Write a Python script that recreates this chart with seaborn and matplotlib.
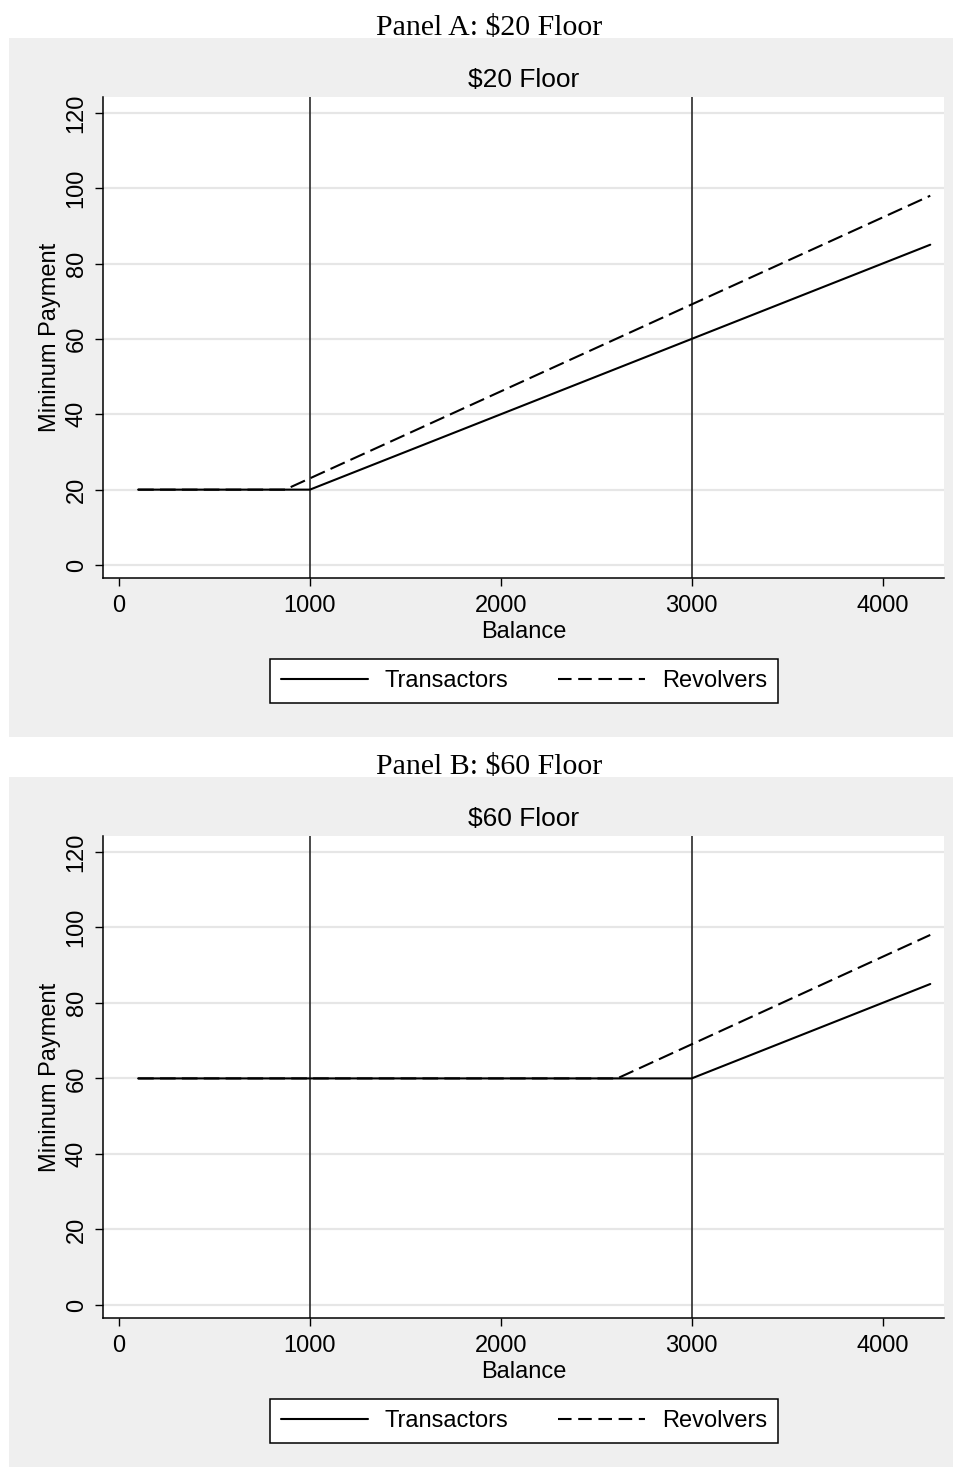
import numpy as np
import pandas as pd
import seaborn as sns
import matplotlib.pyplot as plt
from matplotlib.patches import Rectangle
from matplotlib.lines import Line2D

# data: kink points of the minimum payment schedules
panel_titles = ["Panel A: $20 Floor", "Panel B: $60 Floor"]
plot_titles = ["$20 Floor", "$60 Floor"]

a_trans_bal = [100, 1000, 4250]
a_trans_pay = [20, 20, 85]
a_rev_bal = [100, 870, 4250]
a_rev_pay = [20, 20, 98]

b_trans_bal = [100, 3000, 4250]
b_trans_pay = [60, 60, 85]
b_rev_bal = [100, 2610, 4250]
b_rev_pay = [60, 60, 98]

vlines = [1000, 3000]
xticks = [0, 1000, 2000, 3000, 4000]
yticks = [0, 20, 40, 60, 80, 100, 120]
series_names = ["Transactors", "Revolvers"]

sns.set_style("white")
plt.rcParams['font.family'] = ['Liberation Sans', 'DejaVu Sans']
plt.rcParams['text.color'] = 'black'
plt.rcParams['axes.labelcolor'] = 'black'
plt.rcParams['xtick.color'] = 'black'
plt.rcParams['ytick.color'] = 'black'

W, H = 954, 1467
fig = plt.figure(figsize=(W / 100, H / 100), dpi=100)
fig.patch.set_facecolor("white")

GRAY = "#efefef"
DASH = (0, (7.5, 3))

panels = [
    (a_trans_bal, a_trans_pay, a_rev_bal, a_rev_pay, 38, 737, 97, 578),
    (b_trans_bal, b_trans_pay, b_rev_bal, b_rev_pay, 777, 1467, 836, 1318),
]

def fx(px):
    return px / W

def fy(py):
    return 1 - py / H

for i, (tb, tp, rb, rp, g_top, g_bot, a_top, a_bot) in enumerate(panels):
    # gray background box
    fig.patches.append(Rectangle((fx(9), fy(g_bot)), fx(W - 9), fy(g_top) - fy(g_bot),
                                 transform=fig.transFigure, facecolor=GRAY,
                                 edgecolor="none", zorder=-10))
    # serif panel header
    fig.text(fx(489), fy(g_top - 10), panel_titles[i], ha="center", va="center",
             fontsize=21.5, family="Liberation Serif", color="black")

    ax = fig.add_axes([fx(103), fy(a_bot), fx(944) - fx(103), fy(a_top) - fy(a_bot)])
    ax.set_facecolor("white")

    df_t = pd.DataFrame({"Balance": tb, "Payment": tp})
    df_r = pd.DataFrame({"Balance": rb, "Payment": rp})

    for v in vlines:
        ax.axvline(v, color="#2b2b2b", lw=1.2, zorder=2)

    sns.lineplot(data=df_t, x="Balance", y="Payment", ax=ax, color="black",
                 lw=1.5, zorder=4, estimator=None, sort=False)
    sns.lineplot(data=df_r, x="Balance", y="Payment", ax=ax, color="black",
                 lw=1.5, linestyle=DASH, zorder=3, estimator=None, sort=False)

    ax.set_xlim(-84, 4322)
    ax.set_ylim(-3.45, 124.2)
    ax.set_xticks(xticks)
    ax.set_yticks(yticks)
    ax.grid(axis="y", color="#e6e6e6", lw=1.6, zorder=1)
    ax.grid(axis="x", visible=False)
    ax.set_axisbelow(True)

    for s in ["top", "right"]:
        ax.spines[s].set_visible(False)
    for s in ["left", "bottom"]:
        ax.spines[s].set_color("black")
        ax.spines[s].set_linewidth(1.1)

    ax.tick_params(axis="both", which="major", length=6, width=1.0, color="black",
                   labelsize=17, labelcolor="black", direction="out",
                   bottom=True, left=True)
    ax.tick_params(axis="x", pad=6)
    ax.tick_params(axis="y", pad=5)
    for lab in ax.get_yticklabels():
        lab.set_rotation(90)
        lab.set_va("center")
    ax.set_xlabel("Balance", fontsize=17, labelpad=3, color="black")
    ax.set_ylabel("Mininum Payment", fontsize=17, labelpad=3.5, color="black")
    ax.set_title(plot_titles[i], fontsize=19, pad=7, color="black")

    handles = [Line2D([], [], color="black", lw=1.5),
               Line2D([], [], color="black", lw=1.5, linestyle=(0, (6.5, 3.2)))]
    leg = fig.legend(handles, series_names, loc="center",
                     bbox_to_anchor=(fx(524), fy(a_bot + 103)), ncol=2,
                     fontsize=17, frameon=True, fancybox=False, edgecolor="black",
                     handlelength=3.7, handletextpad=0.7, columnspacing=2.1,
                     borderpad=0.45, labelcolor="black")
    leg.get_frame().set_linewidth(1.1)
    leg.get_frame().set_facecolor("white")
    leg.get_frame().set_alpha(1)

fig.savefig("out.png", dpi=100, facecolor="white")
